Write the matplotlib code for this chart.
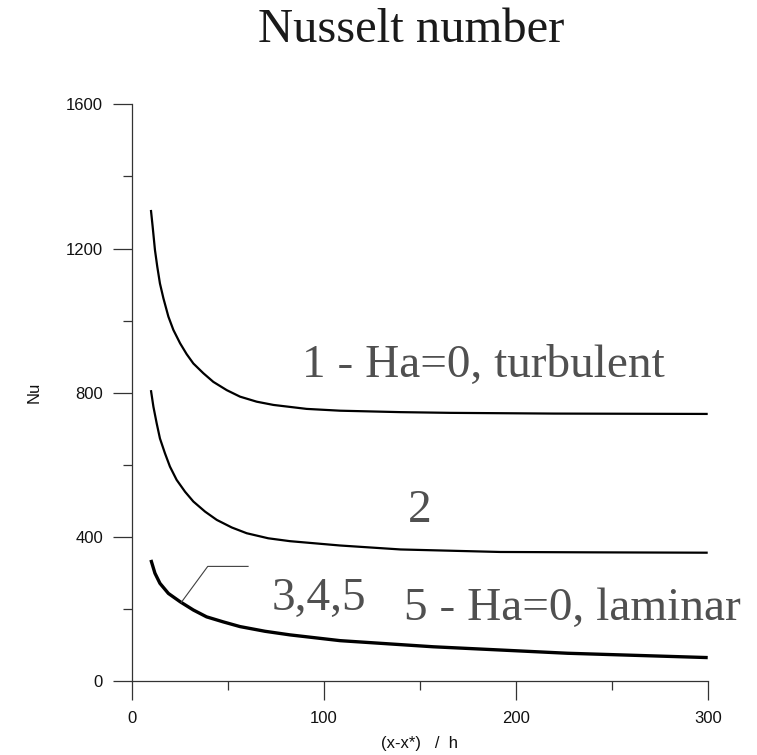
import matplotlib
matplotlib.use("Agg")
import matplotlib.pyplot as plt
from matplotlib.ticker import MultipleLocator

# Nusselt number along the channel, (x-x*)/h
x1 = [10, 10.9, 12.1, 13.3, 14.7, 16.5, 19.1, 21.7, 25.2, 28.6, 32.1, 37.3, 42.5,
      49.5, 56.4, 65.1, 73.8, 91.1, 108.5, 140, 166, 220, 300]
nu1 = [1307, 1261, 1196, 1150, 1103, 1062, 1011, 974, 937, 907, 881, 854, 830,
       807, 789, 775, 766, 755, 750, 746, 744, 742, 741]

x2 = [10, 11.3, 13, 14.7, 17.3, 19.9, 23.4, 27.8, 32.1, 38.2, 44.3, 52.1, 59.9,
      71.1, 82.4, 108.5, 140, 192, 240, 300]
nu2 = [807, 761, 715, 673, 632, 595, 558, 525, 498, 470, 447, 426, 410,
       396, 388, 376, 365, 358, 357, 356]

x345 = [10, 12.1, 14.7, 19.1, 25.2, 32.1, 39, 47.7, 56.4, 69.4, 82.4, 108.5,
        157, 227, 300]
nu345 = [336, 299, 271, 243, 220, 197, 178, 164, 151, 138, 128, 112,
         95, 77, 65]

serif = ["Liberation Serif", "DejaVu Serif"]
sans = ["Liberation Sans", "DejaVu Sans"]

fig = plt.figure(figsize=(7.57, 7.55), dpi=100)
ax = fig.add_axes([0.174, 0.098, 0.7609, 0.7638])

line_kw = dict(color="black", solid_capstyle="butt", solid_joinstyle="round")
ax.plot(x1, nu1, lw=1.6, **line_kw)
ax.plot(x2, nu2, lw=1.6, **line_kw)
ax.plot(x345, nu345, lw=2.4, **line_kw)

# leader line to the "3,4,5" label
ax.plot([25.8, 39.6, 60.6], [218, 318, 318], color="#404040", lw=0.8)

ax.set_xlim(0, 300)
ax.set_ylim(0, 1600)
ax.xaxis.set_major_locator(MultipleLocator(100))
ax.xaxis.set_minor_locator(MultipleLocator(50))
ax.yaxis.set_major_locator(MultipleLocator(400))
ax.yaxis.set_minor_locator(MultipleLocator(200))

for s in ("top", "right"):
    ax.spines[s].set_visible(False)
for s in ("left", "bottom"):
    ax.spines[s].set_color("#333333")
    ax.spines[s].set_linewidth(0.9)

ax.tick_params(which="major", direction="out", length=13.7, width=0.9, color="#333333")
ax.tick_params(which="minor", direction="out", length=6.8, width=0.9, color="#333333")
ax.tick_params(axis="y", which="major", pad=7)
ax.tick_params(axis="x", which="major", pad=8)
for lab in ax.get_xticklabels() + ax.get_yticklabels():
    lab.set_family(sans)
    lab.set_fontsize(12)
    lab.set_color("#111111")

ax.set_xlabel("(x-x*)   /  h", family=sans, fontsize=12, color="#111111")
ax.set_ylabel("Nu", family=sans, fontsize=12, color="#111111")
ax.xaxis.set_label_coords(0.5, -0.095)
ax.yaxis.set_label_coords(-0.156, 0.5)

fig.text(411 / 757, 0.9448, "Nusselt number", family=serif, fontsize=35,
         ha="center", va="baseline", color="#1a1a1a")

tc = "#505050"
ax.text(88.7, 843, "1 - Ha=0, turbulent", family=serif, fontsize=34, color=tc, va="baseline")
ax.text(143.9, 441, "2", family=serif, fontsize=34, color=tc, va="baseline")
ax.text(72.9, 197, "3,4,5", family=serif, fontsize=34, color=tc, va="baseline")
ax.text(141.8, 169, "5 - Ha=0, laminar", family=serif, fontsize=34, color=tc, va="baseline")

fig.savefig("out.png", dpi=100)
